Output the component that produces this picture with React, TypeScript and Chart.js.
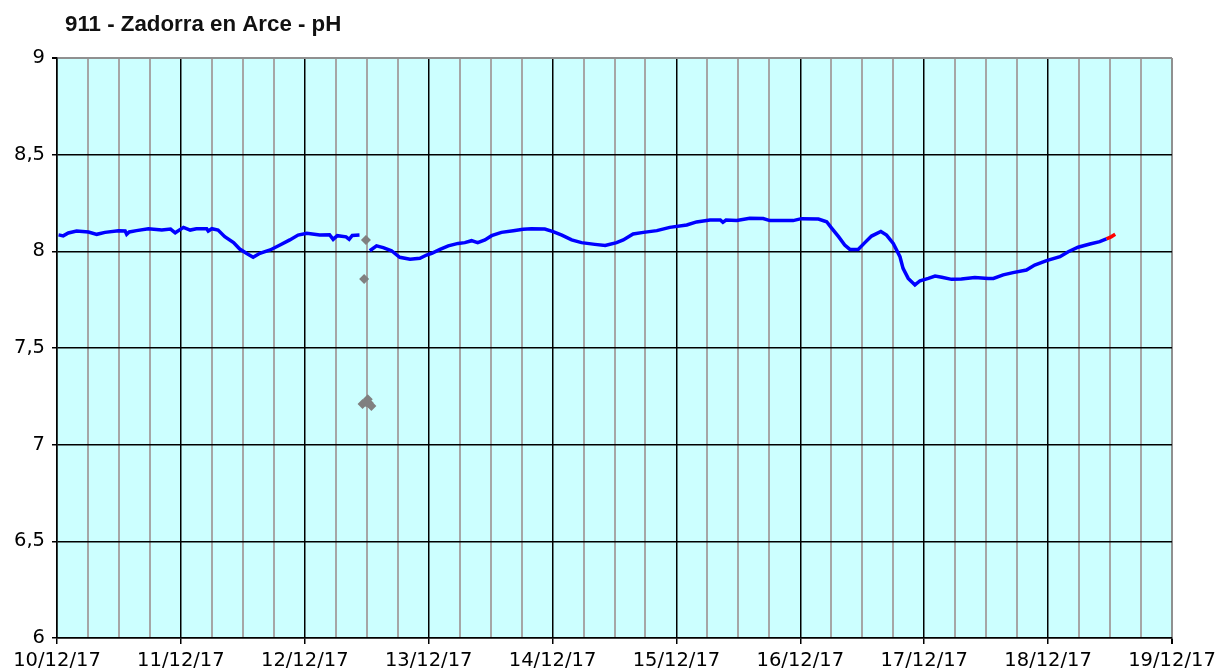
import React, { useEffect, useRef } from 'react';
import { Chart, registerables } from 'chart.js';

Chart.register(...registerables);

const chartTitle = '911 - Zadorra en Arce - pH';
const dayLabels = ['10/12/17', '11/12/17', '12/12/17', '13/12/17', '14/12/17', '15/12/17', '16/12/17', '17/12/17', '18/12/17', '19/12/17'];

// hours after 10/12/17 00:00
const blueHours = [
  0.3, 1.2, 2.2, 3.8, 6.1, 7.7, 9.3, 11.9, 13.2, 13.5, 14.0, 15.4, 17.7, 20.3, 22.0, 22.9,
  24.5, 25.8, 27, 29, 29.3, 30, 31.2, 32.5, 34.2, 35.4, 37, 38, 39.3, 41.3, 43.2, 45.1,
  46.7, 48.4, 50.9, 52.8, 53.5, 54.3, 56, 56.6, 57.2, 58.6, 59.5,
  60.6, 61.9, 63.2, 64.8, 66.4, 68.4, 70.3, 71.6, 72.6, 74.2, 75.8, 77.7, 79, 80.3, 81.5,
  82.9, 84.2, 86.1, 88.4, 90.3, 91.9, 94.5, 96.1, 97.8, 99.7, 101.6, 104.2, 106.2, 108.4,
  109.7, 111.6, 113.6, 116.2, 118.7, 122, 123.9, 126.5, 128.5, 129, 129.6, 131.7, 134.2,
  136.8, 138.1, 142.6, 144.2, 147.5, 149.1, 150.1, 151.4, 152.6, 153.6, 155.2, 156.5,
  157.8, 159.6, 160.7, 162, 163.3, 163.9, 164.9, 166.2, 167.2, 168.8, 170.1, 171.4, 173.3,
  175.2, 177.8, 180.4, 181.4, 183.3, 185.2, 187.8, 189.4, 191.7, 194.3, 195.9, 197.8,
  200.1, 202, 203.3,
];
const bluePH: (number | null)[] = [
  8.085, 8.08, 8.095, 8.105, 8.1, 8.088, 8.098, 8.107, 8.105, 8.088, 8.1, 8.107, 8.117, 8.11, 8.115, 8.096,
  8.124, 8.11, 8.117, 8.117, 8.105, 8.117, 8.11, 8.076, 8.045, 8.012, 7.985, 7.969, 7.99, 8.007, 8.033, 8.059,
  8.084, 8.093, 8.084, 8.086, 8.062, 8.081, 8.075, 8.062, 8.082, 8.084, null,
  8.003, 8.028, 8.019, 8.003, 7.969, 7.959, 7.964, 7.981, 7.99, 8.01, 8.028, 8.041, 8.045, 8.055, 8.045,
  8.059, 8.081, 8.098, 8.107, 8.114, 8.117, 8.115, 8.102, 8.084, 8.059, 8.045, 8.036, 8.03, 8.045,
  8.059, 8.09, 8.098, 8.107, 8.124, 8.136, 8.152, 8.162, 8.162, 8.15, 8.162, 8.159, 8.171,
  8.17, 8.159, 8.159, 8.169, 8.167, 8.153, 8.119, 8.076, 8.033, 8.01, 8.01, 8.045,
  8.079, 8.103, 8.084, 8.041, 7.972, 7.912, 7.86, 7.826, 7.848, 7.86, 7.872, 7.866, 7.855,
  7.857, 7.864, 7.86, 7.86, 7.878, 7.89, 7.903, 7.929, 7.952, 7.972, 7.998, 8.021,
  8.038, 8.05, 8.064,
];

const redHours = [203.3, 204.2, 205];
const redPH = [8.064, 8.075, 8.088];

const grayHours = [59.85, 59.5, 59.2, 59.9, 60.4, 60.9, 60.2];
const grayPH = [8.059, 7.857, 7.21, 7.22, 7.215, 7.2, 7.235];

const toPoints = (xs: number[], ys: (number | null)[]) => xs.map((x, i) => ({ x, y: ys[i] }));

export default function App() {
  const ref = useRef<HTMLCanvasElement>(null);

  useEffect(() => {
    document.body.style.margin = '0';
    const canvas = ref.current;
    if (!canvas) return;

    const bgPlugin = {
      id: 'plotBg',
      beforeDraw(chart: any) {
        const { ctx, chartArea: a } = chart;
        ctx.save();
        ctx.fillStyle = '#CCFFFF';
        ctx.fillRect(a.left, a.top, a.right - a.left, a.bottom - a.top);
        ctx.restore();
      },
    };
    const titlePlugin = {
      id: 'customTitle',
      afterDraw(chart: any) {
        const ctx = chart.ctx;
        ctx.save();
        ctx.font = 'bold 22.3px "Liberation Sans", Arial, sans-serif';
        ctx.fillStyle = '#111111';
        ctx.textBaseline = 'alphabetic';
        ctx.textAlign = 'left';
        ctx.fillText(chartTitle, 65, 31);
        ctx.restore();
      },
    };

    const tickFont = { family: '"DejaVu Sans", Verdana, sans-serif', size: 19.5 };

    const chart = new Chart(canvas, {
      type: 'scatter',
      data: {
        datasets: [
          {
            label: 'pH',
            data: toPoints(blueHours, bluePH),
            showLine: true,
            borderColor: '#0000FF',
            backgroundColor: '#0000FF',
            borderWidth: 3.5,
            pointRadius: 0,
            spanGaps: false,
            tension: 0,
          },
          {
            label: 'pH (último)',
            data: toPoints(redHours, redPH),
            showLine: true,
            borderColor: '#FF0000',
            backgroundColor: '#FF0000',
            borderWidth: 3.5,
            pointRadius: 0,
          },
          {
            label: 'pH (puntual)',
            data: toPoints(grayHours, grayPH),
            showLine: false,
            pointStyle: 'rectRot',
            pointRadius: 5,
            borderWidth: 0,
            backgroundColor: '#808080',
            borderColor: '#808080',
          },
        ],
      },
      options: {
        responsive: false,
        animation: false,
        layout: { padding: { left: 0, top: 58, right: 45, bottom: 0 } },
        plugins: {
          legend: { display: false },
          tooltip: { enabled: false },
          title: { display: false },
        },
        scales: {
          x: {
            type: 'linear',
            min: 0,
            max: 216,
            afterFit: (s: any) => {
              s.height = 32;
              s.paddingLeft = 0;
              s.paddingRight = 0;
            },
            ticks: {
              stepSize: 6,
              autoSkip: false,
              maxRotation: 0,
              minRotation: 0,
              padding: 5,
              color: '#000000',
              font: tickFont,
              callback: (v: any) => (Number(v) % 24 === 0 ? dayLabels[Number(v) / 24] : ''),
            },
            grid: {
              drawOnChartArea: true,
              drawTicks: true,
              tickLength: 6,
              lineWidth: (c: any) => {
                const v = c.tick ? c.tick.value : 0;
                return v % 24 === 0 && v !== 216 ? 1.5 : 2;
              },
              color: (c: any) => {
                const v = c.tick ? c.tick.value : 0;
                if (v === 216) return '#909090';
                return v % 24 === 0 ? '#000000' : '#A6A6A6';
              },
              tickColor: (c: any) => {
                const v = c.tick ? c.tick.value : 0;
                return v % 24 === 0 ? '#000000' : 'rgba(0,0,0,0)';
              },
            },
            border: { display: true, color: '#000000', width: 1.5 },
          },
          y: {
            type: 'linear',
            min: 6,
            max: 9,
            afterFit: (s: any) => {
              s.width = 57;
              s.paddingTop = 0;
              s.paddingBottom = 0;
            },
            ticks: {
              stepSize: 0.5,
              padding: 7,
              color: '#000000',
              font: tickFont,
              callback: (v: any) => String(v).replace('.', ','),
            },
            grid: {
              drawOnChartArea: true,
              drawTicks: true,
              tickLength: 5,
              lineWidth: (c: any) => (c.tick && c.tick.value === 9 ? 2 : 1.5),
              color: (c: any) => (c.tick && c.tick.value === 9 ? '#909090' : '#000000'),
              tickColor: '#000000',
            },
            border: { display: true, color: '#000000', width: 1.5 },
          },
        },
      },
      plugins: [bgPlugin, titlePlugin],
    });

    return () => chart.destroy();
  }, []);

  return (
    <div style={{ position: 'fixed', left: 0, top: 0, width: 1217, height: 670, background: '#ffffff' }}>
      <canvas ref={ref} width={1217} height={670} style={{ display: 'block' }} />
    </div>
  );
}
